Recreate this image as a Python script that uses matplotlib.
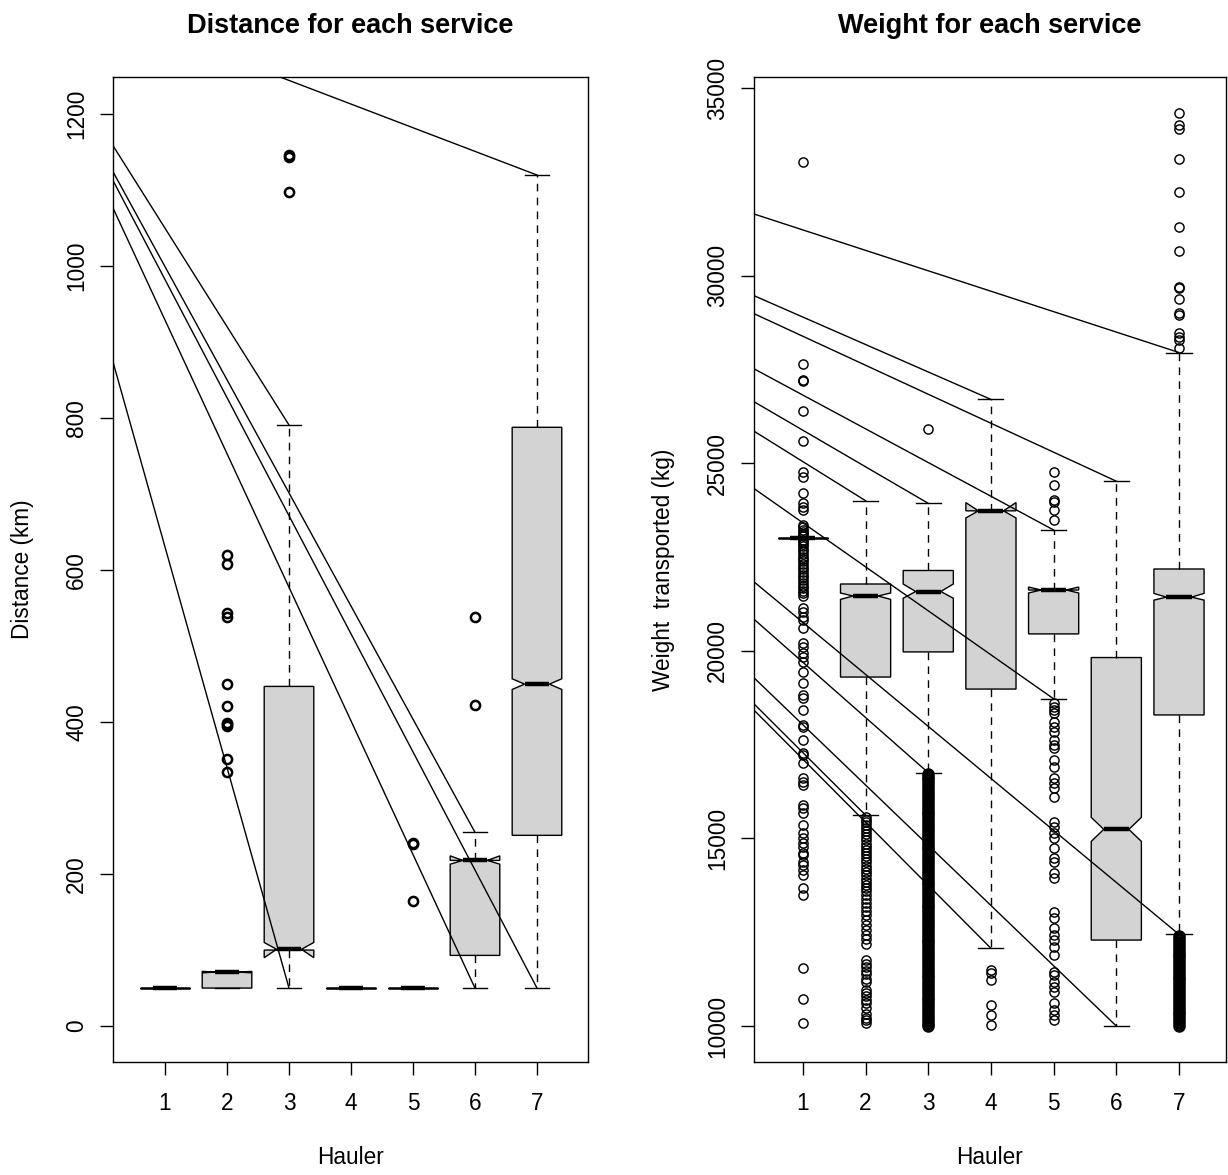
import matplotlib
matplotlib.use("Agg")
import matplotlib.pyplot as plt
import numpy as np

plt.rcParams["font.family"] = ["Liberation Sans", "DejaVu Sans"]

haulers = [1, 2, 3, 4, 5, 6, 7]

# Distance (km) per hauler: box statistics
dist_whislo = [50, 50, 50, 50, 50, 50, 50]
dist_q1 = [50, 50, 100, 50, 50, 93, 251]
dist_med = [50, 71, 101, 50, 50, 218, 450]
dist_q3 = [50, 71, 447, 50, 50, 218, 788]
dist_whishi = [50, 71, 791, 50, 50, 255, 1120]
dist_cilo = [50, 70, 90, 50, 50, 213, 443]
dist_cihi = [50, 72, 110, 50, 50, 224, 457]
dist_out = [
    [],
    [620, 608, 543, 538, 450, 421, 399, 397, 395, 351, 335],
    [1146, 1144, 1097],
    [],
    [241, 240, 165],
    [538, 422],
    [],
]

# Weight transported (kg) per hauler
wt_whislo = [23000, 15620, 16750, 12070, 18720, 10000, 12440]
wt_q1 = [23000, 19300, 19970, 18980, 20450, 12290, 18290]
wt_med = [23000, 21460, 21580, 23730, 21620, 15240, 21430]
wt_q3 = [23000, 21780, 22140, 23730, 21620, 19820, 22180]
wt_whishi = [23000, 24000, 23930, 26700, 23220, 24520, 27950]
wt_cilo = [23000, 21370, 21400, 23540, 21540, 14920, 21350]
wt_cihi = [23000, 21540, 21780, 23950, 21700, 15560, 21530]
wt_out = [
    [33030, 27640, 27230, 27200, 26400, 25590, 24760, 24640, 24200, 23940,
     23830, 23750, 23350, 23290, 23220, 23160, 23100, 23060, 22960, 22910,
     22850, 22780, 22710, 22650, 22580, 22510, 22440, 22380, 22300, 22240,
     22170, 22090, 22020, 21960, 21880, 21810, 21740, 21680, 21600, 21530,
     21450, 21140, 21030, 20900, 20820, 20600, 20200, 20100, 19940, 19830,
     19700, 19430, 19140, 18820, 18740, 18420, 18020, 17970, 17620, 17280,
     17220, 17010, 16610, 16500, 16420, 15890, 15810, 15680, 15360, 15140,
     15010, 14880, 14770, 14610, 14560, 14370, 14290, 14160, 14020, 13680,
     13490, 11550, 10720, 10080],
    [15580, 15500, 15430, 15350, 15280, 15190, 15110, 15030, 14950, 14860,
     14780, 14700, 14610, 14530, 14440, 14360, 14270, 14190, 14100, 14020,
     13930, 13850, 13760, 13680, 13590, 13480, 13390, 13280, 13170, 13060,
     12950, 12820, 12690, 12560, 12430, 12310, 12190, 11760, 11660, 11570,
     11470, 11380, 11260, 11160, 10960, 10870, 10790, 10700, 10610, 10470,
     10320, 10210, 10150, 10090],
    [25910, 16720, 16640, 16570, 16490, 16410, 16330, 16260, 16180, 16100,
     16020, 15950, 15870, 15790, 15710, 15640, 15560, 15480, 15400, 15330,
     15250, 15170, 15090, 15020, 14940, 14860, 14780, 14710, 14630, 14550,
     14470, 14400, 14320, 14240, 14160, 14090, 14010, 13930, 13850, 13780,
     13700, 13620, 13540, 13470, 13390, 13310, 13230, 13160, 13080, 13000,
     12920, 12850, 12770, 12690, 12610, 12540, 12460, 12380, 12300, 12230,
     12150, 12070, 11990, 11920, 11840, 11760, 11680, 11610, 11530, 11450,
     11370, 11300, 11220, 11140, 11060, 10990, 10910, 10830, 10750, 10680,
     10600, 10520, 10440, 10370, 10290, 10210, 10130, 10060, 10000],
    [11490, 11410, 11230, 10560, 10290, 10030],
    [24770, 24420, 24020, 23970, 23750, 23480, 18610, 18500, 18420, 18340,
     18100, 17970, 17840, 17620, 17490, 17410, 17090, 16900, 16610, 16480,
     16340, 16100, 15440, 15300, 15140, 15010, 14740, 14480, 14370, 14080,
     13940, 13040, 12880, 12610, 12430, 12290, 12110, 11890, 11440, 11360,
     11170, 11040, 10910, 10610, 10430, 10290, 10160],
    [],
    [34330, 34010, 33920, 33110, 32240, 31300, 30660, 29700, 29660, 29370,
     29000, 28950, 28460, 28370, 28280, 28060, 12400, 12320, 12240, 12170,
     12090, 12010, 11930, 11860, 11780, 11700, 11620, 11550, 11470, 11390,
     11310, 11240, 11160, 11080, 11000, 10930, 10850, 10770, 10690, 10620,
     10540, 10460, 10380, 10310, 10230, 10150, 10070, 10000],
]

# the stray segments in the original all start from one point off the plot
dist_origin = (-1.61, 1388)
wt_origin = (-11.43, 37985)

W, H = 1228, 1175
fig = plt.figure(figsize=(W / 100, H / 100), dpi=100)
ax1 = fig.add_axes([113 / W, 1 - 1062 / H, 475 / W, 985 / H])
ax2 = fig.add_axes([754 / W, 1 - 1062 / H, 472 / W, 985 / H])


def panel(ax, whislo, q1, med, q3, whishi, cilo, cihi, fliers, origin, mew, packed=()):
    stats = []
    for i in range(len(haulers)):
        stats.append(dict(med=med[i], q1=q1[i], q3=q3[i], whislo=whislo[i],
                          whishi=whishi[i], cilo=cilo[i], cihi=cihi[i],
                          fliers=fliers[i]))
    res = ax.bxp(stats, positions=haulers, widths=0.8, shownotches=True,
                 patch_artist=True,
                 boxprops=dict(facecolor="#d3d3d3", edgecolor="black", linewidth=1.0),
                 whiskerprops=dict(color="black", linewidth=1.0, linestyle=(0, (5.5, 4.5))),
                 capprops=dict(color="black", linewidth=1.0),
                 medianprops=dict(color="black", linewidth=3.2, solid_capstyle="butt"),
                 flierprops=dict(marker="o", markerfacecolor="none", markeredgecolor="black",
                                 markersize=6.6, markeredgewidth=mew, linestyle="none"))
    # low outliers of the packed columns render as a solid bar in the original
    for i in packed:
        fl = res["fliers"][i]
        xs = np.asarray(fl.get_xdata())
        ys = np.asarray(fl.get_ydata())
        low = ys < q1[i]
        fl.set_data(xs[~low], ys[~low])
        ax.plot(xs[low], ys[low], "o", mfc="none", mec="black", ms=6.6, mew=2.4)
    # stray lines to each whisker end
    for i, x in enumerate(haulers):
        if whishi[i] > q3[i]:
            ax.plot([origin[0], x], [origin[1], whishi[i]], color="black", lw=1.0, zorder=5)
        if whislo[i] < q1[i]:
            ax.plot([origin[0], x], [origin[1], whislo[i]], color="black", lw=1.0, zorder=5)


panel(ax1, dist_whislo, dist_q1, dist_med, dist_q3, dist_whishi, dist_cilo, dist_cihi,
      dist_out, dist_origin, 1.8)
panel(ax2, wt_whislo, wt_q1, wt_med, wt_q3, wt_whishi, wt_cilo, wt_cihi,
      wt_out, wt_origin, 1.05, packed=(2, 6))

ax1.set_xlim(0.161, 7.823)
ax1.set_ylim(-47.3, 1249)
ax1.set_yticks([0, 200, 400, 600, 800, 1000, 1200])
ax2.set_xlim(0.22, 7.75)
ax2.set_ylim(9040, 35293)
ax2.set_yticks([10000, 15000, 20000, 25000, 30000, 35000])

titles = ["Distance for each service", "Weight for each service"]
ylabels = ["Distance (km)", "Weight  transported (kg)"]
for ax, t, yl, wpx in zip([ax1, ax2], titles, ylabels, [475, 472]):
    ax.set_xticks(haulers)
    ax.set_xticklabels([str(h) for h in haulers])
    ax.tick_params(axis="both", direction="out", length=9.7, width=1.0,
                   labelsize=16.3, colors="black")
    ax.tick_params(axis="x", pad=12)
    ax.tick_params(axis="y", pad=8.3, labelrotation=90)
    for lab in ax.get_yticklabels():
        lab.set_va("center")
    for s in ax.spines.values():
        s.set_linewidth(1.0)
    ax.set_title(t, fontsize=19.5, fontweight="bold", y=1 + 51 / 985, va="center", pad=0)
    ax.set_xlabel("Hauler", fontsize=16.3)
    ax.xaxis.label.set_va("center")
    ax.xaxis.set_label_coords(0.5, -96 / 985)
    ax.set_ylabel(yl, fontsize=16.3)
    ax.yaxis.label.set_va("center")
    ax.yaxis.set_label_coords(-91 / wpx, 0.5)

fig.savefig("out.png", dpi=100)
